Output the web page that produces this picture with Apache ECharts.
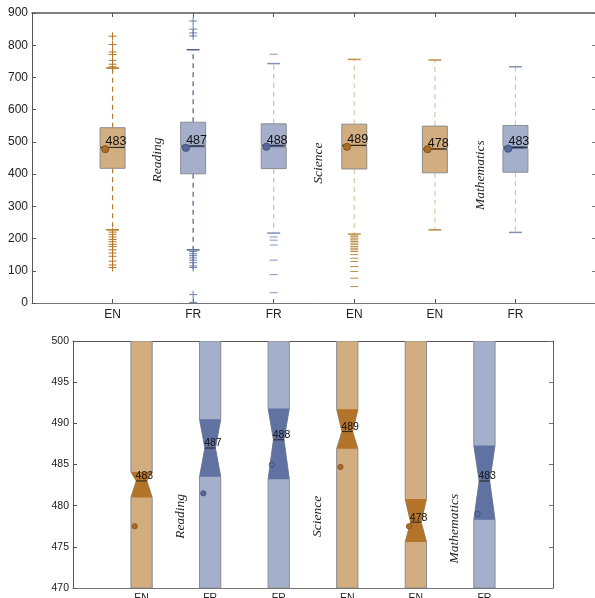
<!DOCTYPE html>
<html>
<head>
<meta charset="utf-8">
<script src="https://cdn.jsdelivr.net/npm/echarts@6/dist/echarts.min.js"></script>
<style>
html,body{margin:0;padding:0;background:#fff;}
#chart{width:595px;height:598px;}
</style>
</head>
<body>
<div id="chart"></div>
<script>
// ---------- data ----------
const categories = ['EN', 'FR', 'FR', 'EN', 'EN', 'FR'];
const groups = ['tan', 'blue', 'blue', 'tan', 'tan', 'blue'];
const q1 = [418, 401, 417, 416, 404, 406];
const medians = [483, 487, 488, 489, 478, 483];
const q3 = [544, 561, 556, 555, 549, 551];
const whiskerLow = [227, 165, 217, 214, 227, 219];
const whiskerHigh = [729, 786, 743, 756, 754, 733];
const notchLow = [481.0, 483.5, 483.2, 486.9, 475.6, 478.3];
const notchHigh = [484.1, 490.5, 491.8, 491.7, 480.8, 487.3];
const means = [477.5, 481.5, 485.0, 484.7, 477.5, 479.0];
const medianLabels = ['483', '487', '488', '489', '478', '483'];
const meanHollowZoom = [false, false, true, false, false, true];

const outliersReadingEN = [733, 741, 753, 771, 779, 802, 828, 220, 213, 205, 197, 190, 182, 175, 165, 155, 145, 130, 118, 110];
const outliersReadingFR = [829, 838, 850, 875, 160, 153, 147, 140, 133, 125, 115, 110, 26, 2];
const outliersReadingFR2 = [772, 205, 195, 180, 133, 88, 32];
const outliersScienceEN = [211, 206, 201, 196, 191, 186, 181, 175, 170, 165, 160, 150, 139, 129, 113, 98, 77, 51];
const outliersMathEN = [];
const outliersMathFR = [];
const outliers = [outliersReadingEN, outliersReadingFR, outliersReadingFR2, outliersScienceEN, outliersMathEN, outliersMathFR];
const outlierMarkers = ['+', '+', '_', '_', '_', '_'];

const subjects = ['Reading', 'Science', 'Mathematics'];
const subjectX = [1.56, 3.56, 5.56];
const subjectYTop = [444, 434, 397];
const subjectYZoom = [478.7, 478.7, 477.2];

const yTicksTop = [0, 900, 100];
const yTicksZoom = [470, 500, 5];

// ---------- styles ----------
const fills = { tan: '#d2ad80', blue: '#a4afcb' };
const darks = { tan: '#b37329', blue: '#5f72a1' };
const meanFill = { tan: '#a96d2a', blue: '#56699a' };
const whiskerColors = ['#b07a32', '#4f6290', '#b9c2d8', '#dcc7a8', '#dcc7a8', '#c3c9da'];
const capColors = ['#b07020', '#4f6290', '#8192b8', '#c19243', '#b98b3e', '#8490ad'];
const outlierColors = ['#b57628', '#6b7fac', '#8193bb', '#b98b44', '#b98b44', '#8193bb'];

const BOX_W = 0.31;
const CAP_W = 0.16;

const boxData = categories.map((c, i) => [i + 1, q1[i], medians[i], q3[i], whiskerLow[i], whiskerHigh[i], notchLow[i], notchHigh[i], means[i], i]);

function makeBoxRender(zoomed) {
  return function (params, api) {
    const cs = params.coordSys;
    const clampY = y => Math.min(Math.max(y, cs.y), cs.y + cs.height);
    const x = api.value(0);
    const i = api.value(9);
    const g = groups[i];
    const P = (xx, v) => { const p = api.coord([xx, v]); return [p[0], clampY(p[1])]; };
    const L = x - BOX_W / 2, R = x + BOX_W / 2;
    const wL = x - BOX_W / 4, wR = x + BOX_W / 4;
    const vq1 = api.value(1), med = api.value(2), vq3 = api.value(3);
    const wlo = api.value(4), whi = api.value(5), nlo = api.value(6), nhi = api.value(7), mean = api.value(8);
    const children = [];
    if (!zoomed) {
      const dash = [5, 4];
      children.push({ type: 'line', shape: { x1: P(x, vq3)[0], y1: P(x, vq3)[1], x2: P(x, whi)[0], y2: P(x, whi)[1] }, style: { stroke: whiskerColors[i], lineWidth: 1.2, lineDash: dash } });
      children.push({ type: 'line', shape: { x1: P(x, vq1)[0], y1: P(x, vq1)[1], x2: P(x, wlo)[0], y2: P(x, wlo)[1] }, style: { stroke: whiskerColors[i], lineWidth: 1.2, lineDash: dash } });
      children.push({ type: 'line', shape: { x1: P(x - CAP_W / 2, whi)[0], y1: P(x, whi)[1], x2: P(x + CAP_W / 2, whi)[0], y2: P(x, whi)[1] }, style: { stroke: capColors[i], lineWidth: 1.5 } });
      children.push({ type: 'line', shape: { x1: P(x - CAP_W / 2, wlo)[0], y1: P(x, wlo)[1], x2: P(x + CAP_W / 2, wlo)[0], y2: P(x, wlo)[1] }, style: { stroke: capColors[i], lineWidth: 1.5 } });
    }
    const outline = [P(L, vq1), P(L, nlo), P(wL, med), P(L, nhi), P(L, vq3), P(R, vq3), P(R, nhi), P(wR, med), P(R, nlo), P(R, vq1)];
    children.push({ type: 'polygon', shape: { points: outline }, style: { fill: fills[g], stroke: '#8c8c8c', lineWidth: 1 } });
    const notch = [P(L, nlo), P(wL, med), P(L, nhi), P(R, nhi), P(wR, med), P(R, nlo)];
    children.push({ type: 'polygon', shape: { points: notch }, style: { fill: darks[g], stroke: null } });
    const m1 = zoomed ? P(wL, med) : P(L, med);
    const m2 = zoomed ? P(wR, med) : P(R, med);
    children.push({ type: 'line', shape: { x1: m1[0], y1: m1[1], x2: m2[0], y2: m2[1] }, style: { stroke: '#222', lineWidth: 1 } });
    const mp = P(x - (zoomed ? 0.1 : 0.09), mean);
    const hollow = zoomed && meanHollowZoom[i];
    children.push({ type: 'circle', shape: { cx: mp[0], cy: mp[1], r: zoomed ? 2.6 : 3.6 }, style: { fill: hollow ? 'none' : meanFill[g], stroke: hollow ? '#3d4f7c' : (g === 'tan' ? '#8a5418' : '#44557f'), lineWidth: 1 } });
    const cp = P(x, med);
    children.push({ type: 'text', x: cp[0] - (zoomed ? 6 : 7), y: cp[1] + 1, style: { text: medianLabels[i], fill: '#111', fontSize: zoomed ? 10.5 : 12.5, fontFamily: 'Liberation Sans, Arial, sans-serif', align: 'left', verticalAlign: 'bottom' } });
    return { type: 'group', children };
  };
}

const outlierData = [];
outliers.forEach((arr, i) => arr.forEach(v => outlierData.push([i + 1, v, i])));

function outlierRender(params, api) {
  const x = api.value(0), v = api.value(1), i = api.value(2);
  const p = api.coord([x, v]);
  const h = 4;
  const children = [{ type: 'line', shape: { x1: p[0] - h, y1: p[1], x2: p[0] + h, y2: p[1] }, style: { stroke: outlierColors[i], lineWidth: 1 } }];
  if (outlierMarkers[i] === '+') {
    children.push({ type: 'line', shape: { x1: p[0], y1: p[1] - h, x2: p[0], y2: p[1] + h }, style: { stroke: outlierColors[i], lineWidth: 1 } });
  }
  return { type: 'group', children };
}

function makeSubjectRender() {
  return function (params, api) {
    const k = api.value(2);
    const p = api.coord([api.value(0), api.value(1)]);
    return { type: 'text', x: p[0], y: p[1], rotation: Math.PI / 2, style: { text: subjects[k], fill: '#222', fontSize: 13.5, fontStyle: 'italic', fontFamily: 'Liberation Serif, DejaVu Serif, serif', align: 'center', verticalAlign: 'middle' } };
  };
}
const subjectTopData = subjects.map((s, k) => [subjectX[k], subjectYTop[k], k]);
const subjectZoomData = subjects.map((s, k) => [subjectX[k], subjectYZoom[k], k]);

const labelFont = 'Liberation Sans, Arial, sans-serif';
function xAxisBottom(gridIndex, fontSize, margin) {
  return {
    gridIndex, type: 'value', min: 0, max: 7, interval: 1, position: 'bottom',
    axisLine: { show: true, lineStyle: { color: '#777', width: 1 } },
    axisTick: { show: true, inside: true, length: 4, lineStyle: { color: '#555' } },
    axisLabel: { show: true, formatter: v => categories[v - 1] || '', color: '#222', fontSize, fontFamily: labelFont, margin },
    splitLine: { show: false }
  };
}
function xAxisTop(gridIndex, width) {
  return {
    gridIndex, type: 'value', min: 0, max: 7, interval: 1, position: 'top',
    axisLine: { show: true, onZero: false, lineStyle: { color: '#555', width } },
    axisTick: { show: true, inside: true, length: 4, lineStyle: { color: '#555' } },
    axisLabel: { show: false }, splitLine: { show: false }
  };
}
function yAxisLeft(gridIndex, t, fontSize) {
  return {
    gridIndex, type: 'value', min: t[0], max: t[1], interval: t[2], position: 'left',
    axisLine: { show: true, onZero: false, lineStyle: { color: '#555', width: 1 } },
    axisTick: { show: true, inside: true, length: 4, lineStyle: { color: '#555' } },
    axisLabel: { show: true, color: '#222', fontSize, fontFamily: labelFont, margin: 4 },
    splitLine: { show: false }
  };
}
function yAxisRight(gridIndex, t, showLine) {
  return {
    gridIndex, type: 'value', min: t[0], max: t[1], interval: t[2], position: 'right',
    axisLine: { show: showLine, onZero: false, lineStyle: { color: '#666', width: 1 } },
    axisTick: { show: true, inside: true, length: 4, lineStyle: { color: '#777' } },
    axisLabel: { show: false }, splitLine: { show: false }
  };
}

const option = {
  animation: false,
  backgroundColor: '#fff',
  grid: [
    { left: 32, top: 13, width: 564, height: 290, containLabel: false, outerBoundsMode: 'none' },
    { left: 73, top: 341, width: 480, height: 247, containLabel: false, outerBoundsMode: 'none' }
  ],
  xAxis: [xAxisBottom(0, 12, 6), xAxisTop(0, 1.5), xAxisBottom(1, 10.5, 5), xAxisTop(1, 1)],
  yAxis: [yAxisLeft(0, yTicksTop, 12), yAxisRight(0, yTicksTop, false), yAxisLeft(1, yTicksZoom, 10.5), yAxisRight(1, yTicksZoom, true)],
  series: [
    { type: 'custom', xAxisIndex: 0, yAxisIndex: 0, data: boxData, encode: { x: 0, y: 2 }, renderItem: makeBoxRender(false), clip: true, silent: true },
    { type: 'custom', xAxisIndex: 0, yAxisIndex: 0, data: outlierData, encode: { x: 0, y: 1 }, renderItem: outlierRender, clip: true, silent: true },
    { type: 'custom', xAxisIndex: 0, yAxisIndex: 0, data: subjectTopData, encode: { x: 0, y: 1 }, renderItem: makeSubjectRender(), silent: true },
    { type: 'custom', xAxisIndex: 2, yAxisIndex: 2, data: boxData, encode: { x: 0, y: 2 }, renderItem: makeBoxRender(true), clip: true, silent: true },
    { type: 'custom', xAxisIndex: 2, yAxisIndex: 2, data: subjectZoomData, encode: { x: 0, y: 1 }, renderItem: makeSubjectRender(), silent: true }
  ]
};

const chart = echarts.init(document.getElementById('chart'), null, { renderer: 'canvas' });
chart.setOption(option);
</script>
</body>
</html>
